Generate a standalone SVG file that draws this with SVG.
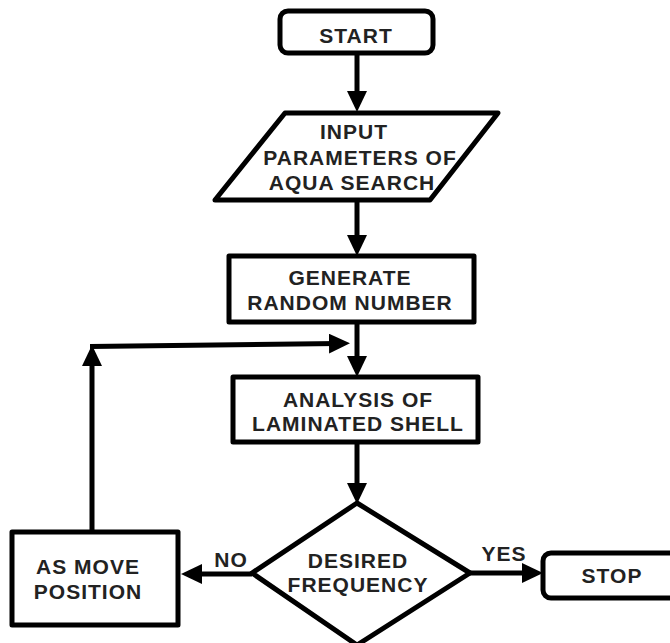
<svg xmlns="http://www.w3.org/2000/svg" width="670" height="643" viewBox="0 0 670 643">
<style>
.shape{fill:#fff;stroke:#000;stroke-width:5;stroke-linejoin:round}
.conn{fill:none;stroke:#000;stroke-width:5}
.t{font-family:"Liberation Sans",Arial,sans-serif;font-weight:bold;font-size:21px;letter-spacing:1px;fill:#222;text-anchor:middle}
</style>
<defs>
<marker id="ah" markerUnits="userSpaceOnUse" markerWidth="22" markerHeight="20" refX="9" refY="10" orient="auto">
<path d="M0,0 L21,10 L0,20 Z" fill="#000"/>
</marker>
</defs>
<rect width="670" height="643" fill="#fff"/>
<g id="connectors">
<line class="conn" x1="357" y1="53" x2="357" y2="100" marker-end="url(#ah)"/>
<line class="conn" x1="357" y1="200" x2="357" y2="244" marker-end="url(#ah)"/>
<line class="conn" x1="357" y1="322" x2="357" y2="365" marker-end="url(#ah)"/>
<line class="conn" x1="357" y1="442" x2="357" y2="492" marker-end="url(#ah)"/>
<line class="conn" x1="252" y1="574" x2="193" y2="574" marker-end="url(#ah)"/>
<line class="conn" x1="468" y1="573" x2="531" y2="573" marker-end="url(#ah)"/>
<line class="conn" x1="92" y1="532" x2="92" y2="357" marker-end="url(#ah)"/>
<line class="conn" x1="90" y1="346.5" x2="338" y2="343.5" marker-end="url(#ah)"/>
<text class="t" x="231" y="567">NO</text>
<text class="t" x="504" y="561">YES</text>
</g>
<g id="start">
<rect class="shape" x="280" y="11" width="153" height="42" rx="8"/>
<text class="t" x="356" y="43">START</text>
</g>
<g id="input">
<polygon class="shape" points="285,113 498,113 430,200 215,200"/>
<text class="t" x="354" y="139">INPUT</text>
<text class="t" x="360" y="165">PARAMETERS OF</text>
<text class="t" x="352" y="190">AQUA SEARCH</text>
</g>
<g id="generate">
<rect class="shape" x="229" y="256" width="245" height="66"/>
<text class="t" x="350" y="285">GENERATE</text>
<text class="t" x="350" y="310">RANDOM NUMBER</text>
</g>
<g id="analysis">
<rect class="shape" x="233" y="377" width="245" height="65"/>
<text class="t" x="358" y="407">ANALYSIS OF</text>
<text class="t" x="358" y="431">LAMINATED SHELL</text>
</g>
<g id="decision">
<polygon class="shape" points="357,503 470,573 357,645 252,573"/>
<text class="t" x="358" y="568">DESIRED</text>
<text class="t" x="358" y="592">FREQUENCY</text>
</g>
<g id="move">
<rect class="shape" x="12" y="532" width="166" height="93"/>
<text class="t" x="88" y="574">AS MOVE</text>
<text class="t" x="88" y="599">POSITION</text>
</g>
<g id="stop">
<rect class="shape" x="543" y="553" width="150" height="45" rx="8"/>
<text class="t" x="612" y="583">STOP</text>
</g>
</svg>
